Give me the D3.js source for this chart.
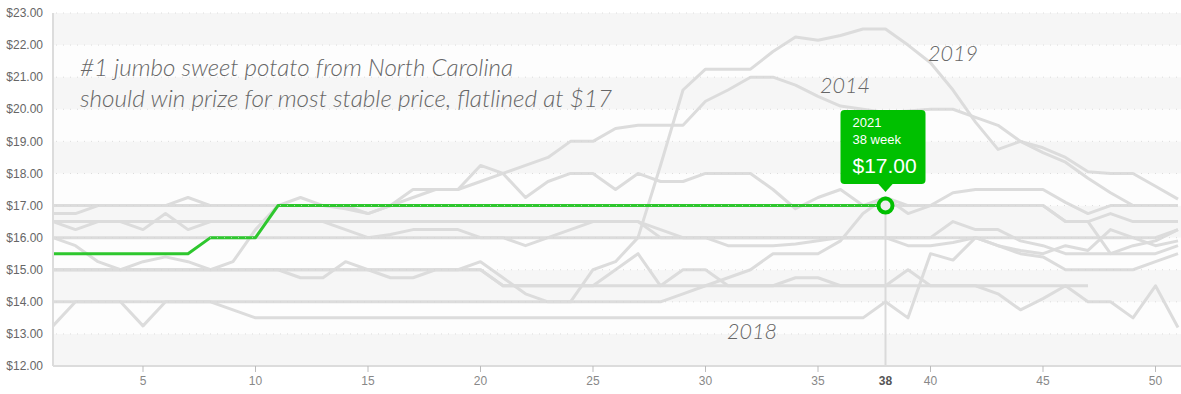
<!DOCTYPE html>
<html>
<head>
<meta charset="utf-8">
<script src="https://cdn.jsdelivr.net/npm/d3@7"></script>
<style>
  body { margin: 0; background: #fff; }
  #chart svg { display: block; }
</style>
</head>
<body>
<div id="chart"></div>
<script>
// weeks on the x axis
var xTicks = [5, 10, 15, 20, 25, 30, 35, 40, 45, 50];
var yTicks = [12, 13, 14, 15, 16, 17, 18, 19, 20, 21, 22, 23];

// 2021 (highlighted) - only up to week 38
var price2021 = [15.5, 15.5, 15.5, 15.5, 15.5, 15.5, 15.5, 16, 16, 16,
  17, 17, 17, 17, 17, 17, 17, 17, 17, 17, 17, 17, 17, 17, 17, 17, 17, 17,
  17, 17, 17, 17, 17, 17, 17, 17, 17, 17];

// past years (grey)
var price2019 = [15, 15, 15, 15, 15, 15, 15, 15, 15, 15, 15, 14.75, 14.75, 15.25, 15, 14.75, 14.75, 15, 15, 15.25,
  14.75, 14.25, 14, 14, 15, 15.25, 16, 18.25, 20.6, 21.25, 21.25, 21.25, 21.8, 22.25, 22.15, 22.3, 22.5, 22.5,
  22, 21.45, 20.6, 19.6, 18.75, 19, 18.65, 18.35, 17.85, 17.4, 17, 17, 17];
var price2014 = [16, 15.75, 15.25, 15, 15.25, 15.4, 15.25, 15, 15.25, 16.25, 17, 17.25, 17, 17, 16.75, 17, 17.25, 17.5, 17.5, 17.75,
  18, 18.25, 18.5, 19, 19, 19.4, 19.5, 19.5, 19.5, 20.25, 20.6, 21, 21, 20.75, 20.4, 20.1, 20, 19.9,
  19.95, 20, 20, 19.75, 19.5, 19, 18.8, 18.5, 18.05, 18, 18, 17.6, 17.2];
var price2018 = [13.25, 14, 14, 14, 13.25, 14, 14, 14, 13.75, 13.5, 13.5, 13.5, 13.5, 13.5, 13.5, 13.5, 13.5, 13.5, 13.5, 13.5,
  13.5, 13.5, 13.5, 13.5, 13.5, 13.5, 13.5, 13.5, 13.5, 13.5, 13.5, 13.5, 13.5, 13.5, 13.5, 13.5, 13.5, 14,
  13.5, 15.5, 15.3, 16, 15.75, 15.5, 15.4, 15, 15, 15, 15, 15.25, 15.5];
var price2020 = [15, 15, 15, 15, 15, 15, 15, 15, 15, 15, 15, 15, 15, 15, 15, 15, 15, 15, 15, 15,
  14.5, 14.5, 14.5, 14.5, 14.5, 14.5, 14.5, 14.5, 14.5, 14.5, 14.5, 14.5, 14.5, 14.5, 14.5, 14.5, 14.5, 14.5,
  14.5, 14.5, 14.5, 14.5, 14.5, 14.5, 14.5, 14.5, 14.5];
var price2017 = [16.75, 16.75, 17, 17, 17, 17, 17.25, 17, 17, 17, 17, 17, 17, 16.9, 16.75, 17, 17.5, 17.5, 17.5, 18.25,
  18, 17.25, 17.75, 18, 18, 17.5, 18, 17.75, 17.75, 18, 18, 18, 17.5, 16.9, 17.25, 17.5, 17, 17.25,
  17, 17, 17.4, 17.5, 17.5, 17.5, 17.5, 17.1, 16.75, 17, 17, 17, 17];
var price2016 = [14, 14, 14, 14, 14, 14, 14, 14, 14, 14, 14, 14, 14, 14, 14, 14, 14, 14, 14, 14,
  14, 14, 14, 14, 14, 14, 14, 14, 14.25, 14.5, 14.75, 15, 15.5, 15.5, 15.5, 15.9, 16.75, 17.25,
  16.75, 17, 17, 17, 17, 17, 17, 16.5, 16.5, 15.5, 15.5, 15.5, 15.75];
var price2015 = [17, 17, 17, 17, 17, 17, 17, 17, 17, 17, 17, 17, 17, 17, 17, 17, 17, 17, 17, 17,
  17, 17, 17, 17, 17, 17, 17, 17, 17, 17, 17, 17, 17, 17, 17, 17, 17, 17,
  17, 17, 17, 17, 17, 17, 17, 16.5, 16.5, 16.75, 16.5, 16.5, 16.5];
var price2013 = [16.5, 16.5, 16.5, 16.5, 16.5, 16.5, 16.5, 16.5, 16.5, 16.5, 16.5, 16.5, 16.5, 16.5, 16.5, 16.5, 16.5, 16.5, 16.5, 16.5,
  16.5, 16.5, 16.5, 16.5, 16.5, 16.5, 16.5, 16, 16, 16, 16, 16, 16, 16, 16, 16, 16, 16,
  16, 16, 16.5, 16.25, 16.25, 15.9, 15.75, 15.5, 15.5, 15.5, 15.75, 15.9, 16.25];
var price2012 = [16.5, 16.25, 16.5, 16.5, 16.25, 16.75, 16.25, 16.5, 16.5, 16.5, 16.5, 16.5, 16.5, 16.25, 16, 16.1, 16.25, 16.25, 16.25, 16,
  16, 15.75, 16, 16.25, 16.5, 16.5, 16.5, 16.25, 16, 16, 15.75, 15.75, 15.75, 15.8, 15.9, 16, 16, 16,
  15.75, 15.75, 15.85, 16, 15.75, 15.6, 15.5, 15.75, 15.6, 16.25, 16, 15.75, 15.9];
var price2011 = [16, 16, 16, 16, 16, 16, 16, 16, 16, 16, 16, 16, 16, 16, 16, 16, 16, 16, 16, 16,
  16, 16, 16, 16, 16, 16, 16, 16, 16, 16, 16, 16, 16, 16, 16, 16, 16, 16,
  16, 16, 16, 16, 16, 16, 16, 16, 16, 16, 16, 16, 16.25];
var price2010 = [15, 15, 15, 15, 15, 15, 15, 15, 15, 15, 15, 15, 15, 15, 15, 15, 15, 15, 15, 15,
  14.5, 14.5, 14.5, 14.5, 14.5, 15, 15.5, 14.5, 15, 15, 14.5, 14.5, 14.5, 14.75, 14.75, 14.5, 14.5, 14.5,
  15, 14.5, 14.5, 14.5, 14.25, 13.75, 14.1, 14.5, 14, 14, 13.5, 14.5, 13.2];

var greyYears = [
  {year: 2010, values: price2010},
  {year: 2011, values: price2011},
  {year: 2012, values: price2012},
  {year: 2013, values: price2013},
  {year: 2014, values: price2014},
  {year: 2015, values: price2015},
  {year: 2016, values: price2016},
  {year: 2017, values: price2017},
  {year: 2018, values: price2018},
  {year: 2019, values: price2019},
  {year: 2020, values: price2020}
];

var hoverWeek = 38;

// chart dimensions
var width = 1181;
var height = 394;
var plotLeft = 53, plotRight = 1181, plotTop = 13, plotBottom = 366;

var x = d3.scaleLinear().domain([1, 51]).range([plotLeft, 1178]);
var y = d3.scaleLinear().domain([12, 23]).range([plotBottom, plotTop]);

var svg = d3.select('#chart')
  .append('svg')
  .attr('width', width)
  .attr('height', height);

// alternating background bands
svg.append('g').selectAll('rect')
  .data(d3.range(12, 23))
  .enter()
  .append('rect')
  .attr('x', plotLeft)
  .attr('width', plotRight - plotLeft)
  .attr('y', function(d) { return y(d + 1); })
  .attr('height', function(d) { return y(d) - y(d + 1); })
  .attr('fill', function(d) { return (d % 2 === 0) ? '#f6f6f6' : '#fdfdfd'; });

// y labels
svg.append('g').selectAll('text')
  .data(yTicks)
  .enter()
  .append('text')
  .attr('x', 43)
  .attr('y', function(d) { return y(d); })
  .attr('dy', '0.35em')
  .attr('text-anchor', 'end')
  .style('font', '12px "Liberation Sans", Arial, sans-serif')
  .style('fill', '#666')
  .text(function(d) { return '$' + d3.format('.2f')(d); });

// marker guide line
svg.append('line')
  .attr('x1', x(hoverWeek)).attr('x2', x(hoverWeek))
  .attr('y1', y(17)).attr('y2', plotBottom)
  .attr('stroke', '#dadada')
  .attr('stroke-width', 2);

var line = d3.line()
  .x(function(d, i) { return x(i + 1); })
  .y(function(d) { return y(d); });

// grey years
svg.append('g').selectAll('path')
  .data(greyYears)
  .enter()
  .append('path')
  .attr('d', function(d) { return line(d.values); })
  .attr('fill', 'none')
  .attr('stroke', '#dcdcdc')
  .attr('stroke-width', 3)
  .attr('stroke-linejoin', 'round');

// 2021
svg.append('path')
  .attr('d', line(price2021))
  .attr('fill', 'none')
  .attr('stroke', '#2ec72e')
  .attr('stroke-width', 3)
  .attr('stroke-linejoin', 'round');

// dotted grid lines drawn over the lines
svg.append('g').selectAll('line')
  .data(yTicks.filter(function(d) { return d > 12; }))
  .enter()
  .append('line')
  .attr('x1', plotLeft + 3).attr('x2', plotRight)
  .attr('y1', function(d) { return y(d); })
  .attr('y2', function(d) { return y(d); })
  .attr('stroke', '#d6d6d6')
  .attr('stroke-width', 1)
  .attr('stroke-dasharray', '1,6')
  .attr('opacity', 0.8);

// axes lines
svg.append('line')
  .attr('x1', plotLeft).attr('x2', plotLeft).attr('y1', plotTop).attr('y2', plotBottom)
  .attr('stroke', '#dcdcdc').attr('stroke-width', 2);
svg.append('line')
  .attr('x1', plotLeft).attr('x2', plotRight).attr('y1', plotBottom).attr('y2', plotBottom)
  .attr('stroke', '#dcdcdc').attr('stroke-width', 2);

// x ticks + labels
var xg = svg.append('g');
xg.selectAll('line')
  .data(xTicks)
  .enter()
  .append('line')
  .attr('x1', function(d) { return x(d); })
  .attr('x2', function(d) { return x(d); })
  .attr('y1', plotBottom).attr('y2', plotBottom + 6)
  .attr('stroke', '#bbb');
xg.selectAll('text')
  .data(xTicks.concat([hoverWeek]))
  .enter()
  .append('text')
  .attr('x', function(d) { return x(d); })
  .attr('y', 385)
  .attr('text-anchor', 'middle')
  .style('font', function(d) { return (d === hoverWeek ? 'bold ' : '') + '12px "Liberation Sans", Arial, sans-serif'; })
  .style('fill', function(d) { return d === hoverWeek ? '#555' : '#888'; })
  .text(function(d) { return d; });

// handwritten notes
var noteFont = 'italic 300 24px Lato, Roboto, sans-serif';
svg.append('text')
  .attr('x', 80).attr('y', 76)
  .attr('textLength', 433).attr('lengthAdjust', 'spacingAndGlyphs')
  .style('font', noteFont).style('fill', '#666')
  .text('#1 jumbo sweet potato from North Carolina');
svg.append('text')
  .attr('x', 80).attr('y', 107)
  .attr('textLength', 532).attr('lengthAdjust', 'spacingAndGlyphs')
  .style('font', noteFont).style('fill', '#666')
  .text('should win prize for most stable price, flatlined at $17');

var yearNotes = [
  {label: '2014', x: 820, y: 93},
  {label: '2019', x: 928, y: 61},
  {label: '2018', x: 727, y: 339}
];
svg.append('g').selectAll('text')
  .data(yearNotes)
  .enter()
  .append('text')
  .attr('x', function(d) { return d.x; })
  .attr('y', function(d) { return d.y; })
  .attr('textLength', 50).attr('lengthAdjust', 'spacingAndGlyphs')
  .style('font', 'italic 300 22px Lato, Roboto, sans-serif')
  .style('fill', '#666')
  .text(function(d) { return d.label; });

// marker
var mx = x(hoverWeek), my = y(price2021[hoverWeek - 1]);
svg.append('circle')
  .attr('cx', mx).attr('cy', my).attr('r', 7)
  .attr('fill', '#eee')
  .attr('stroke', '#00c000')
  .attr('stroke-width', 4);

// tooltip
var tip = svg.append('g');
tip.append('rect')
  .attr('x', mx - 45).attr('y', 110)
  .attr('width', 85).attr('height', 74)
  .attr('rx', 4)
  .attr('fill', '#00c000');
tip.append('path')
  .attr('d', 'M' + (mx - 8) + ',183 L' + mx + ',192 L' + (mx + 8) + ',183 Z')
  .attr('fill', '#00c000');
tip.append('text')
  .attr('x', mx - 33).attr('y', 127)
  .style('font', '13px "Liberation Sans", Arial, sans-serif')
  .style('fill', '#fff')
  .text('2021');
tip.append('text')
  .attr('x', mx - 33).attr('y', 144)
  .style('font', '13px "Liberation Sans", Arial, sans-serif')
  .style('fill', '#fff')
  .text(hoverWeek + ' week');
tip.append('text')
  .attr('x', mx - 33).attr('y', 173)
  .style('font', '21px "Liberation Sans", Arial, sans-serif')
  .style('fill', '#fff')
  .text('$' + d3.format('.2f')(price2021[hoverWeek - 1]));
</script>
</body>
</html>
